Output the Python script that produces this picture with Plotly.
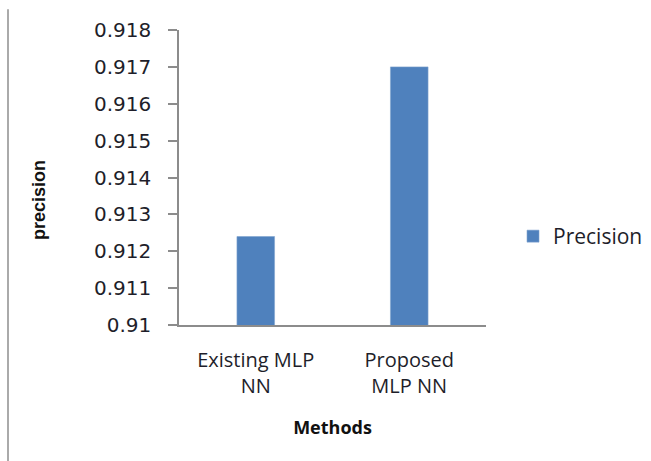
import plotly.graph_objects as go

# Precision of the two MLP neural-network variants
methods = ["Existing MLP<br>NN", "Proposed<br>MLP NN"]
precision = [0.9124, 0.917]
series_name = "Precision"
y_title = "precision"
x_title = "Methods"
y_ticks = [0.91, 0.911, 0.912, 0.913, 0.914, 0.915, 0.916, 0.917, 0.918]
y_tick_text = ["0.91", "0.911", "0.912", "0.913", "0.914", "0.915", "0.916", "0.917", "0.918"]

BAR_BLUE = "#4F81BD"
AXIS_GREY = "#8c8c8c"
TEXT = "#1e1e2a"

fig = go.Figure()
fig.add_trace(go.Bar(
    x=methods,
    y=precision,
    name=series_name,
    marker=dict(color=BAR_BLUE, line=dict(color="#7fa3cf", width=0.6)),
    showlegend=True,
))

fig.update_layout(
    width=651,
    height=461,
    margin=dict(l=179, r=165, t=30, b=136, autoexpand=False),
    paper_bgcolor="white",
    plot_bgcolor="white",
    bargap=0.755,
    font=dict(family="DejaVu Sans", color=TEXT),
    showlegend=True,
    legend=dict(
        x=1.088, y=0.3, xanchor="left", yanchor="middle",
        font=dict(family="Open Sans", size=21, color=TEXT),
        itemwidth=30,
        bgcolor="rgba(0,0,0,0)",
    ),
    xaxis=dict(
        showline=True, linecolor=AXIS_GREY, linewidth=1.5,
        ticks="", showgrid=False, zeroline=False,
        ticklabelstandoff=16,
        tickfont=dict(family="Open Sans", size=20, color=TEXT),
        title=dict(text="<b>" + x_title + "</b>", standoff=24,
                   font=dict(family="Open Sans", size=18, color="#111")),
    ),
    yaxis=dict(
        range=[0.91, 0.918],
        tickvals=y_ticks, ticktext=y_tick_text,
        showline=True, linecolor=AXIS_GREY, linewidth=1.5,
        ticks="outside", ticklen=9, tickcolor=AXIS_GREY, tickwidth=1.5,
        ticklabelstandoff=13,
        showgrid=False, zeroline=False,
        tickfont=dict(family="DejaVu Sans", size=20, color=TEXT),
    ),
    annotations=[
        dict(text="<b>" + y_title + "</b>", textangle=-90,
             xref="paper", yref="paper", x=-0.458, y=0.425,
             xanchor="center", yanchor="middle", showarrow=False,
             font=dict(family="Liberation Sans", size=18, color="#111")),
    ],
    shapes=[
        dict(type="line", xref="paper", yref="paper",
             x0=-0.557, x1=-0.557, y0=-0.463, y1=1.07,
             line=dict(color="#aaaaaa", width=2)),
    ],
)

fig.write_html("out.html")
